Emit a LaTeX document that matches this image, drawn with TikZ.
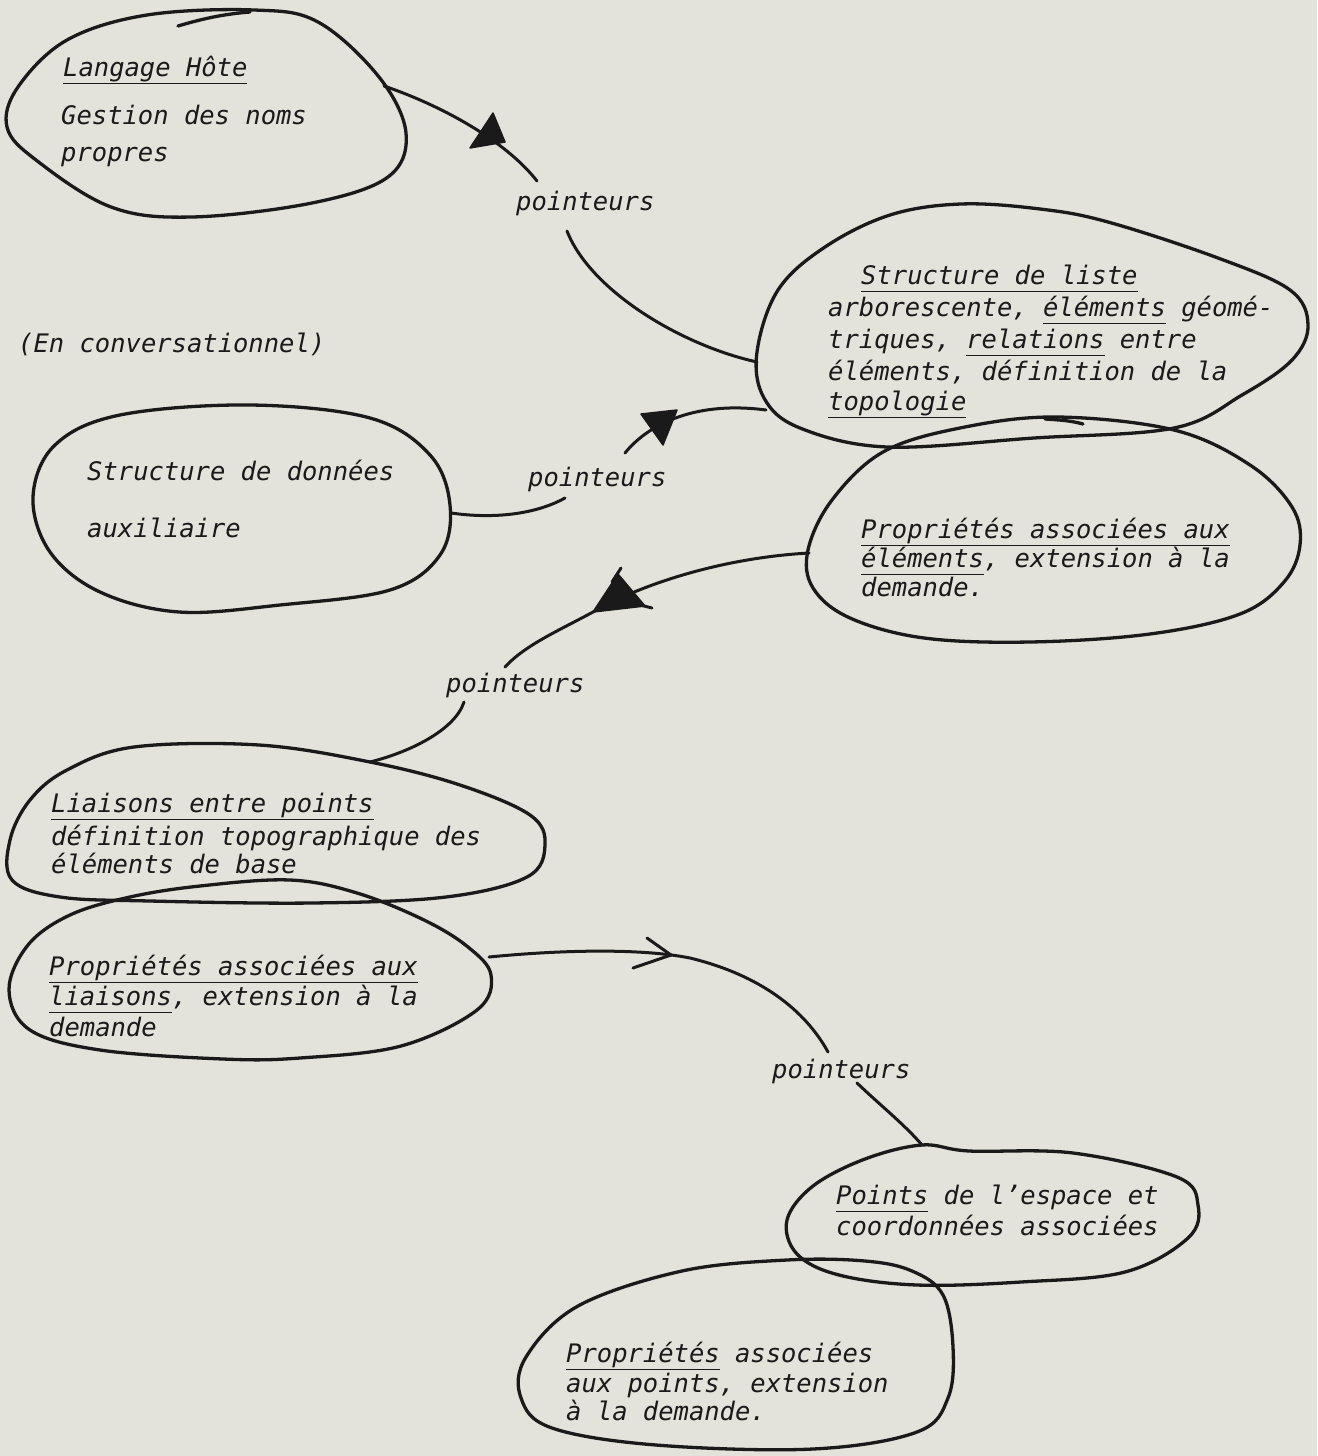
\documentclass[tikz,border=0pt]{standalone}
\usepackage{fontspec}
\setmainfont{DejaVu Sans Mono}
\definecolor{bg}{RGB}{227,226,219}
\definecolor{ink}{RGB}{26,26,26}
\newcommand\uln[1]{\setbox0\hbox{#1}\rlap{\rule[-8pt]{\wd0}{1.3pt}}\box0\relax}
\tikzset{
  txt/.style={anchor=base west, inner sep=0pt, text=ink,
    font=\fontsize{25.5}{30}\selectfont\itshape},
  blob/.style={draw=ink, line width=3.3pt, line join=round, line cap=round},
  conn/.style={draw=ink, line width=3pt, line cap=round},
  headfill/.style={fill=ink, draw=ink, line width=1.5pt, line join=round},
}
\begin{document}
\begin{tikzpicture}[x=1pt,y=-1pt]
\fill[bg] (0,0) rectangle (1317,1456);
\useasboundingbox (0,0) rectangle (1317,1456);

% ---------- blobs ----------
\draw[blob] plot[smooth cycle, tension=0.6] coordinates {(254,10) (318,22) (379,77) (406,133) (388,177) (312,203) (192,217) (111,207) (36,160) (7,127) (18,87) (67,40) (147,15)};
\draw[blob] (178,26) .. controls (205,18) and (225,14) .. (250,12);

\draw[blob] plot[smooth cycle, tension=0.6] coordinates {(757,352) (778,290) (825,247) (890,215) (961,204) (1040,209) (1108,222) (1218,258) (1290,290) (1308,325) (1292,360) (1242,395) (1174,428) (1034,438) (887,447) (800,428) (764,398)};

\draw[blob] plot[smooth cycle, tension=0.6] coordinates {(883,452) (960,428) (1056,417) (1174,430) (1250,465) (1292,507) (1300,545) (1284,582) (1240,614) (1150,634) (1030,642) (924,638) (850,618) (813,588) (808,550) (832,500)};
\draw[blob] (1045,419) .. controls (1062,420) and (1072,421) .. (1083,424);

\draw[blob] plot[smooth cycle, tension=0.6] coordinates {(250,405) (370,418) (430,455) (450,505) (440,555) (390,590) (280,605) (179,612) (100,592) (50,552) (33,497) (55,445) (120,415)};

\draw[blob] plot[smooth cycle, tension=0.6] coordinates {(134,747) (259,745) (370,762) (460,785) (530,815) (545,845) (527,877) (446,897) (312,903) (150,901) (60,897) (12,880) (10,840) (30,800) (67,770)};

\draw[blob] plot[smooth cycle, tension=0.6] coordinates {(290,880) (357,893) (424,920) (468,947) (491,975) (477,1010) (401,1046) (300,1058) (223,1059) (100,1050) (30,1030) (9,990) (28,945) (70,915) (130,897) (200,886)};

\draw[blob] plot[smooth cycle, tension=0.6] coordinates {(922,1145) (969,1151) (1073,1153) (1177,1177) (1198,1205) (1188,1238) (1125,1272) (1021,1282) (917,1285) (839,1275) (797,1254) (787,1220) (813,1186) (865,1159)};

\draw[blob] plot[smooth cycle, tension=0.6] coordinates {(865,1261) (912,1271) (943,1295) (953,1347) (948,1398) (917,1432) (813,1449) (656,1445) (552,1428) (521,1398) (526,1357) (578,1306) (682,1271) (787,1260)};

% ---------- texts ----------
\node[txt] (t1a) at (63,76) {\uln{Langage Hôte}};
\node[txt] (t1b) at (61,124) {Gestion des noms};
\node[txt] (t1c) at (61,161) {propres};

\node[txt] (conv) at (18,352) {(En conversationnel)};

\node[txt] (t4a) at (87,480) {Structure de données};
\node[txt] (t4b) at (87,537) {auxiliaire};

\node[txt] (t2a) at (861,284) {\uln{Structure de liste}};
\node[txt] (t2b) at (828,316) {arborescente, \uln{éléments} géomé-};
\node[txt] (t2c) at (828,348) {triques, \uln{relations} entre};
\node[txt] (t2d) at (828,380) {éléments, définition de la};
\node[txt] (t2e) at (828,410) {\uln{topologie}};

\node[txt] (t3a) at (861,538) {\uln{Propriétés associées aux}};
\node[txt] (t3b) at (861,567) {\uln{éléments}, extension à la};
\node[txt] (t3c) at (861,596) {demande.};

\node[txt] (t5a) at (51,812) {\uln{Liaisons entre points}};
\node[txt] (t5b) at (51,845) {définition topographique des};
\node[txt] (t5c) at (51,873) {éléments de base};

\node[txt] (t6a) at (49,975) {\uln{Propriétés associées aux}};
\node[txt] (t6b) at (49,1005) {\uln{liaisons}, extension à la};
\node[txt] (t6c) at (49,1036) {demande};

\node[txt] (t7a) at (836,1204) {\uln{Points} de l'espace et};
\node[txt] (t7b) at (836,1235) {coordonnées associées};

\node[txt] (t8a) at (566,1362) {\uln{Propriétés} associées};
\node[txt] (t8b) at (566,1392) {aux points, extension};
\node[txt] (t8c) at (566,1420) {à la demande.};

\node[txt] (p1) at (516,210) {pointeurs};
\node[txt] (p2) at (528,486) {pointeurs};
\node[txt] (p3) at (446,692) {pointeurs};
\node[txt] (p4) at (772,1078) {pointeurs};

% ---------- connector end points ----------
\coordinate (e1out) at (384,86);
\coordinate (p1top) at (537,181);
\coordinate (p1bot) at (567,231);
\coordinate (e2in1) at (757,362);
\coordinate (e4out) at (451,513);
\coordinate (p2lo) at (565,498);
\coordinate (p2up) at (625,453);
\coordinate (e2in2) at (766,410);
\coordinate (e3out) at (809,553);
\coordinate (p3top) at (505,667);
\coordinate (p3bot) at (464,702);
\coordinate (e5in) at (370,762);
\coordinate (e6out) at (489,957);
\coordinate (p4top) at (828,1052);
\coordinate (p4bot) at (857,1083);
\coordinate (e7in) at (922,1145);

% ---------- connectors ----------
\draw[conn] (e1out) .. controls (440,105) and (505,140) .. (p1top);
\fill[headfill] (493,113) -- (470,148) -- (505,142) -- cycle;

\draw[conn] (p1bot) .. controls (590,290) and (680,345) .. (e2in1);

\draw[conn] (e4out) .. controls (500,520) and (540,512) .. (p2lo);
\draw[conn] (p2up) .. controls (645,428) and (690,400) .. (e2in2);
\fill[headfill] (641,414) -- (677,410) -- (663,445) -- cycle;

\draw[conn] (e3out) .. controls (720,558) and (640,585) .. (593,612) .. controls (560,630) and (525,645) .. (p3top);
\fill[headfill] (593,612) -- (618,574) -- (645,606) -- cycle;
\draw[conn] (612,582) -- (621,568);
\draw[conn] (640,605) -- (652,608);

\draw[conn] (p3bot) .. controls (455,730) and (410,752) .. (e5in);

\draw[conn] (e6out) .. controls (560,950) and (640,948) .. (690,958) .. controls (760,975) and (805,1010) .. (p4top);
\draw[conn, line join=round] (647,938) -- (671,955) -- (633,968);

\draw[conn] (p4bot) .. controls (880,1105) and (905,1125) .. (e7in);
\end{tikzpicture}
\end{document}
